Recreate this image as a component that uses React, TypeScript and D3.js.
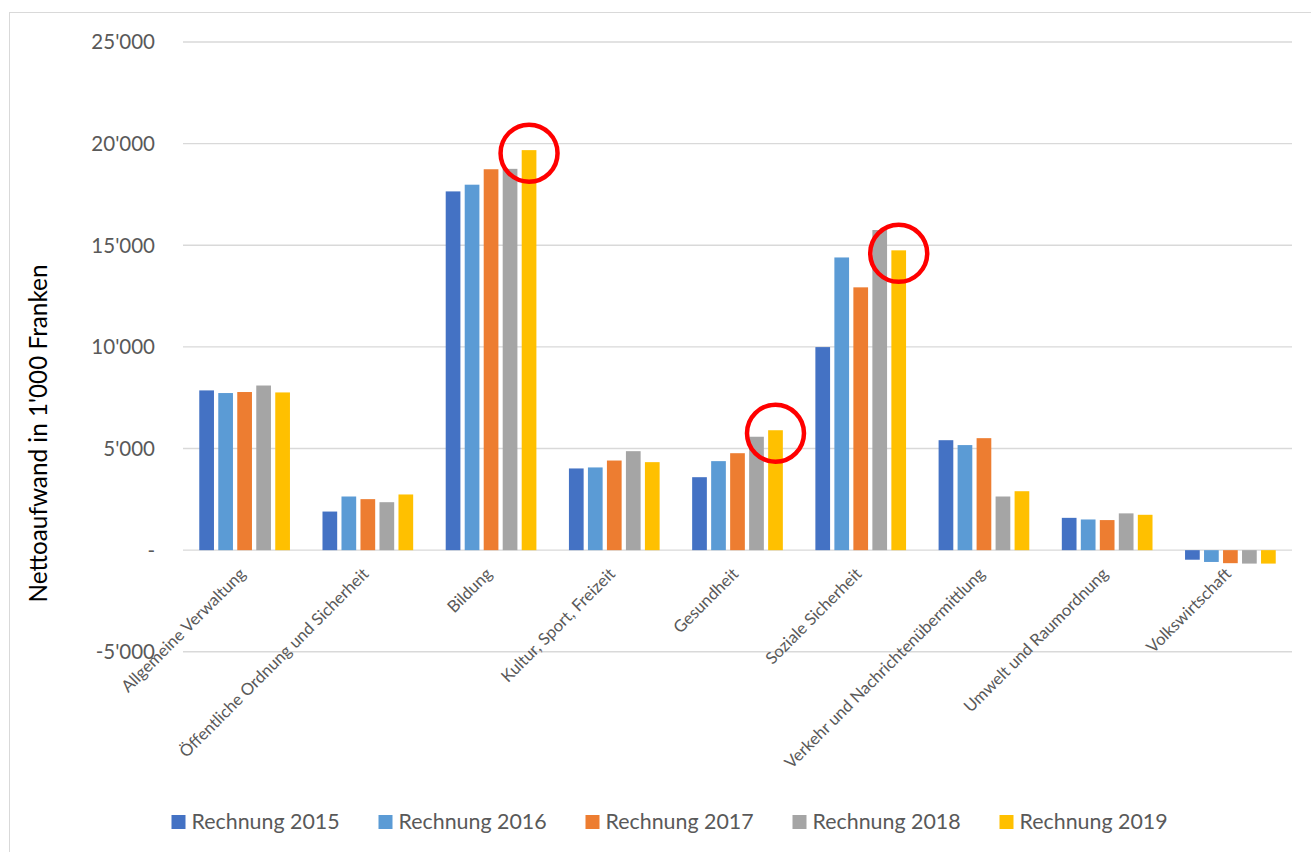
import React from "react";
import * as d3 from "d3";

const categories = [
  "Allgemeine Verwaltung",
  "Öffentliche Ordnung und Sicherheit",
  "Bildung",
  "Kultur, Sport, Freizeit",
  "Gesundheit",
  "Soziale Sicherheit",
  "Verkehr und Nachrichtenübermittlung",
  "Umwelt und Raumordnung",
  "Volkswirtschaft",
];

const seriesNames = ["Rechnung 2015", "Rechnung 2016", "Rechnung 2017", "Rechnung 2018", "Rechnung 2019"];
const seriesColors = ["#4472C4", "#5B9BD5", "#ED7D31", "#A5A5A5", "#FFC000"];

const values2015 = [7860, 1900, 17650, 4020, 3590, 9990, 5410, 1590, -470];
const values2016 = [7730, 2640, 17980, 4070, 4380, 14400, 5170, 1510, -580];
const values2017 = [7780, 2510, 18740, 4410, 4770, 12930, 5510, 1480, -640];
const values2018 = [8100, 2360, 18760, 4870, 5580, 15750, 2640, 1810, -660];
const values2019 = [7760, 2740, 19680, 4330, 5900, 14750, 2900, 1740, -660];
const seriesValues = [values2015, values2016, values2017, values2018, values2019];

const yTicks = [-5000, 0, 5000, 10000, 15000, 20000, 25000];
const highlights = [
  { category: "Bildung", series: 4 },
  { category: "Gesundheit", series: 4 },
  { category: "Soziale Sicherheit", series: 4 },
];

const FONT = "Lato, 'Open Sans', sans-serif";

export default function App() {
  const W = 1311;
  const H = 852;
  const left = 183;
  const right = 1292;

  const y = d3.scaleLinear().domain([-5000, 25000]).range([651.8, 42]);
  const x0 = d3.scaleBand<string>().domain(categories).range([left, right]).paddingInner(0.264).paddingOuter(0.132);
  const x1 = d3
    .scaleBand<number>()
    .domain(d3.range(seriesNames.length))
    .range([0, x0.bandwidth()])
    .paddingInner(0.226)
    .paddingOuter(0);

  const locale = d3.formatLocale({ decimal: ".", thousands: "'", grouping: [3], currency: ["", ""], minus: "-" });
  const fmt = locale.format(",.0f");
  const tickLabel = (v: number) => (v === 0 ? "-" : fmt(v));

  return (
    <svg width={W} height={H} style={{ position: "absolute", left: 0, top: 0, background: "#fff" }}>
      <rect x={9.5} y={12.5} width={1400} height={900} fill="#fff" stroke="#d9d9d9" strokeWidth={1} />
      {yTicks.map((t) => (
        <g key={t}>
          <line x1={left} x2={right} y1={y(t)} y2={y(t)} stroke="#d9d9d9" strokeWidth={1.4} />
          <text x={155} y={y(t)} dy="0.36em" textAnchor="end" fontFamily={FONT} fontSize={20.5} fill="#595959">
            {tickLabel(t)}
          </text>
        </g>
      ))}
      {seriesValues.map((vals, si) =>
        vals.map((v, ci) => {
          const c = categories[ci];
          const bx = (x0(c) ?? 0) + (x1(si) ?? 0);
          return (
            <rect
              key={`${si}-${ci}`}
              x={bx}
              y={Math.min(y(v), y(0))}
              width={x1.bandwidth()}
              height={Math.abs(y(v) - y(0))}
              fill={seriesColors[si]}
            />
          );
        })
      )}
      {categories.map((c) => {
        const cx = (x0(c) ?? 0) + x0.bandwidth() / 2;
        return (
          <text
            key={c}
            transform={`translate(${cx + 2},${575}) rotate(-45)`}
            textAnchor="end"
            fontFamily={FONT}
            fontSize={16.6}
            fill="#595959"
          >
            {c}
          </text>
        );
      })}
      {highlights.map((h) => {
        const ci = categories.indexOf(h.category);
        const v = seriesValues[h.series][ci];
        const cx = (x0(h.category) ?? 0) + (x1(h.series) ?? 0) + x1.bandwidth() / 2;
        return (
          <circle key={h.category} cx={cx} cy={y(v) + 3} r={28.5} fill="none" stroke="#FF0000" strokeWidth={4.5} />
        );
      })}
      <text
        transform={`translate(47,433.5) rotate(-90)`}
        textAnchor="middle"
        fontFamily={FONT}
        fontSize={24.3}
        fill="#000"
      >
        Nettoaufwand in 1'000 Franken
      </text>
      {seriesNames.map((s, i) => {
        const lx = 171.5 + i * 207;
        return (
          <g key={s}>
            <rect x={lx} y={815} width={14} height={14} fill={seriesColors[i]} />
            <text x={lx + 20} y={828.5} fontFamily={FONT} fontSize={21.4} fill="#595959">
              {s}
            </text>
          </g>
        );
      })}
    </svg>
  );
}
